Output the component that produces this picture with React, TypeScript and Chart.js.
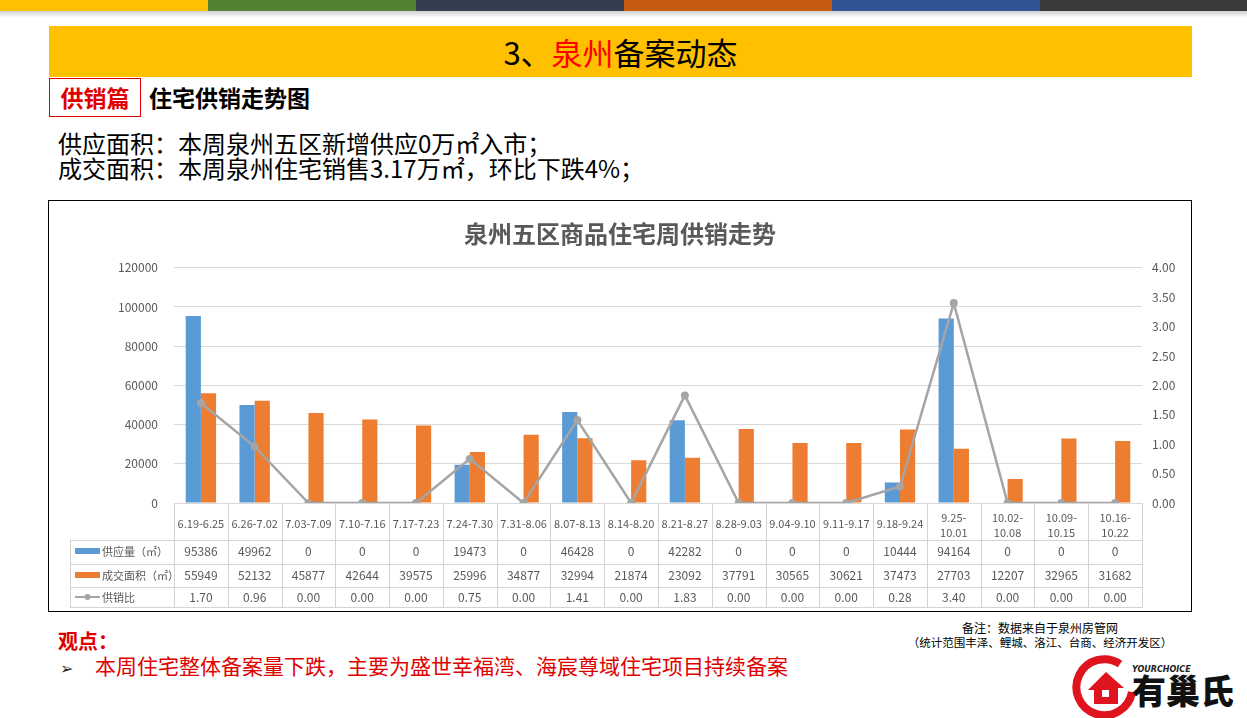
import React, { useEffect, useRef } from "react";
import { Chart, registerables } from "chart.js";

Chart.register(...registerables);

const categories = [
  "6.19-6.25", "6.26-7.02", "7.03-7.09", "7.10-7.16", "7.17-7.23", "7.24-7.30",
  "7.31-8.06", "8.07-8.13", "8.14-8.20", "8.21-8.27", "8.28-9.03", "9.04-9.10",
  "9.11-9.17", "9.18-9.24", "9.25-10.01", "10.02-10.08", "10.09-10.15", "10.16-10.22",
];
const supply = [95386, 49962, 0, 0, 0, 19473, 0, 46428, 0, 42282, 0, 0, 0, 10444, 94164, 0, 0, 0];
const deals = [55949, 52132, 45877, 42644, 39575, 25996, 34877, 32994, 21874, 23092, 37791, 30565, 30621, 37473, 27703, 12207, 32965, 31682];
const ratio = [1.7, 0.96, 0, 0, 0, 0.75, 0, 1.41, 0, 1.83, 0, 0, 0, 0.28, 3.4, 0, 0, 0];
const seriesNames = ["供应量（㎡）", "成交面积（㎡）", "供销比"];
const chartTitle = "泉州五区商品住宅周供销走势";
const leftAxis = { min: 0, max: 120000, step: 20000 };
const rightAxis = { min: 0, max: 4, step: 0.5 };

const BLUE = "#5b9bd5";
const ORANGE = "#ed7d31";
const GRAY = "#a5a5a5";
const TXT = "#595959";
const FONT = "'Noto Sans CJK SC', 'Noto Sans', sans-serif";

const tablePlugin = {
  id: "dataTable",
  afterDraw(chart: any) {
    const ctx = chart.ctx as CanvasRenderingContext2D;
    const { left, right, bottom } = chart.chartArea;
    const n = categories.length;
    const w = (right - left) / n;
    const legendLeft = 21;
    const rows = [bottom, bottom + 37, bottom + 61, bottom + 84, bottom + 104];
    ctx.save();
    ctx.strokeStyle = "#d4d4d4";
    ctx.lineWidth = 1;
    const line = (x1: number, y1: number, x2: number, y2: number) => {
      ctx.beginPath();
      ctx.moveTo(x1, y1);
      ctx.lineTo(x2, y2);
      ctx.stroke();
    };
    for (let i = 0; i <= n; i++) {
      const x = Math.round(left + i * w) + 0.5;
      line(x, rows[0], x, rows[4]);
    }
    line(legendLeft + 0.5, rows[1], legendLeft + 0.5, rows[4]);
    for (let r = 1; r <= 4; r++) {
      const y = Math.round(rows[r]) + 0.5;
      line(legendLeft, y, Math.round(right) + 1, y);
    }
    ctx.fillStyle = TXT;
    ctx.textAlign = "center";
    ctx.textBaseline = "middle";
    ctx.font = `11px ${FONT}`;
    categories.forEach((c, i) => {
      const cx = left + (i + 0.5) * w;
      if (c.length > 9) {
        const k = c.indexOf("-") + 1;
        ctx.fillText(c.slice(0, k), cx, bottom + 15);
        ctx.fillText(c.slice(k), cx, bottom + 30);
      } else {
        ctx.fillText(c, cx, bottom + 21);
      }
    });
    ctx.font = `12px ${FONT}`;
    const rowCenters = [bottom + 48, bottom + 72, bottom + 94];
    const fmt = [
      (v: number) => String(v),
      (v: number) => String(v),
      (v: number) => v.toFixed(2),
    ];
    [supply, deals, ratio].forEach((arr, r) => {
      arr.forEach((v, i) => {
        ctx.fillText(fmt[r](v), left + (i + 0.5) * w, rowCenters[r]);
      });
    });
    // legend keys
    ctx.textAlign = "left";
    ctx.font = `11px ${FONT}`;
    const kx = 26;
    ctx.fillStyle = BLUE;
    ctx.fillRect(kx, rowCenters[0] - 3, 25, 6);
    ctx.fillStyle = ORANGE;
    ctx.fillRect(kx, rowCenters[1] - 3, 25, 6);
    ctx.strokeStyle = GRAY;
    ctx.lineWidth = 2;
    line(kx, rowCenters[2], kx + 25, rowCenters[2]);
    ctx.fillStyle = GRAY;
    ctx.beginPath();
    ctx.arc(kx + 12.5, rowCenters[2], 3, 0, Math.PI * 2);
    ctx.fill();
    ctx.fillStyle = TXT;
    seriesNames.forEach((s, r) => ctx.fillText(s, kx + 27, rowCenters[r] + 1));
    ctx.restore();
  },
};

function ChartBox() {
  const ref = useRef<HTMLCanvasElement>(null);
  useEffect(() => {
    if (!ref.current) return;
    const chart = new Chart(ref.current, {
      type: "bar",
      data: {
        labels: categories,
        datasets: [
          {
            type: "line",
            label: seriesNames[2],
            data: ratio,
            yAxisID: "y1",
            borderColor: GRAY,
            backgroundColor: GRAY,
            borderWidth: 2.5,
            pointRadius: 4,
            pointBackgroundColor: GRAY,
            pointBorderWidth: 0,
            order: 0,
          } as any,
          {
            type: "bar",
            label: seriesNames[0],
            data: supply,
            yAxisID: "y",
            backgroundColor: BLUE,
            categoryPercentage: 0.565,
            barPercentage: 1,
            order: 1,
          },
          {
            type: "bar",
            label: seriesNames[1],
            data: deals,
            yAxisID: "y",
            backgroundColor: ORANGE,
            categoryPercentage: 0.565,
            barPercentage: 1,
            order: 1,
          },
        ],
      },
      options: {
        animation: false,
        responsive: false,
        maintainAspectRatio: false,
        layout: { padding: { top: 0, bottom: 108, left: 0, right: 0 } },
        plugins: {
          legend: { display: false },
          tooltip: { enabled: false },
          title: {
            display: true,
            text: chartTitle,
            color: TXT,
            font: { size: 24, weight: "bold", family: FONT },
            padding: { top: 18, bottom: 20 },
          },
        },
        scales: {
          x: { display: false, offset: true },
          y: {
            position: "left",
            min: leftAxis.min,
            max: leftAxis.max,
            ticks: {
              stepSize: leftAxis.step,
              color: TXT,
              font: { size: 12, family: FONT },
              padding: 16,
              callback: (v: any) => String(v),
            },
            grid: { color: "#d9d9d9", drawTicks: false },
            border: { display: false },
            afterFit: (s: any) => { s.width = 125; },
          },
          y1: {
            position: "right",
            min: rightAxis.min,
            max: rightAxis.max,
            ticks: {
              stepSize: rightAxis.step,
              color: TXT,
              font: { size: 12, family: FONT },
              padding: 10,
              callback: (v: any) => Number(v).toFixed(2),
            },
            grid: { display: false, drawTicks: false },
            border: { display: false },
            afterFit: (s: any) => { s.width = 49; },
          },
        },
      },
      plugins: [tablePlugin],
    });
    return () => chart.destroy();
  }, []);
  return <canvas ref={ref} width={1142} height={410} style={{ display: "block" }} />;
}

const stripColors = ["#ffc000", "#548235", "#333f50", "#c55a11", "#2f5597", "#3a3a3a"];

export default function App() {
  return (
    <div
      style={{
        position: "absolute",
        left: 0,
        top: 0,
        width: 1247,
        height: 718,
        overflow: "hidden",
        background: "#fff",
        fontFamily: FONT,
      }}
    >
      {stripColors.map((c, i) => (
        <div
          key={i}
          style={{ position: "absolute", left: i * 208, top: 0, width: i === 5 ? 207 : 208, height: 11, background: c }}
        />
      ))}
      <div
        style={{
          position: "absolute",
          left: 0,
          top: 11,
          width: 1247,
          height: 7,
          background: "linear-gradient(rgba(0,0,0,0.18), rgba(255,255,255,0))",
        }}
      />
      <div
        style={{
          position: "absolute",
          left: 49,
          top: 26,
          width: 1143,
          height: 51,
          background: "#ffc000",
          textAlign: "center",
          lineHeight: "51px",
          fontSize: 31,
          color: "#000",
        }}
      >
        3、<span style={{ color: "#ff0000" }}>泉州</span>备案动态
      </div>
      <div
        style={{
          position: "absolute",
          left: 49,
          top: 78,
          width: 90,
          height: 37,
          border: "1px solid #e00000",
          color: "#e00000",
          fontWeight: "bold",
          fontSize: 23,
          lineHeight: "37px",
          textAlign: "center",
        }}
      >
        供销篇
      </div>
      <div
        style={{
          position: "absolute",
          left: 149,
          top: 78,
          height: 39,
          lineHeight: "39px",
          fontWeight: "bold",
          fontSize: 23,
          color: "#000",
        }}
      >
        住宅供销走势图
      </div>
      <div
        style={{
          position: "absolute",
          left: 58,
          top: 130,
          fontSize: 24,
          lineHeight: "25px",
          color: "#000",
          whiteSpace: "nowrap",
        }}
      >
        <div>供应面积：本周泉州五区新增供应0万㎡入市；</div>
        <div>成交面积：本周泉州住宅销售3.17万㎡，环比下跌4%；</div>
      </div>
      <div
        style={{
          position: "absolute",
          left: 48,
          top: 200,
          width: 1142,
          height: 410,
          border: "1px solid #000",
        }}
      >
        <ChartBox />
      </div>
      <div
        style={{
          position: "absolute",
          left: 58,
          top: 628,
          fontSize: 20,
          fontWeight: "bold",
          color: "#e00000",
          lineHeight: "26px",
        }}
      >
        观点：
      </div>
      <div
        style={{
          position: "absolute",
          left: 60,
          top: 652,
          fontSize: 21,
          color: "#e00000",
          lineHeight: "27px",
          whiteSpace: "nowrap",
        }}
      >
        <span style={{ color: "#222", fontSize: 16, marginRight: 22 }}>➢</span>
        本周住宅整体备案量下跌，主要为盛世幸福湾、海宸尊域住宅项目持续备案
      </div>
      <div
        style={{
          position: "absolute",
          left: 880,
          top: 620,
          width: 320,
          textAlign: "center",
          fontSize: 11.5,
          lineHeight: "15px",
          color: "#000",
        }}
      >
        <div style={{ fontSize: 12 }}>备注：数据来自于泉州房管网</div>
        <div>（统计范围丰泽、鲤城、洛江、台商、经济开发区）</div>
      </div>
      <svg
        style={{ position: "absolute", left: 1062, top: 652 }}
        width={185}
        height={66}
        viewBox="0 0 185 66"
      >
        <path d="M58 12 A28 28 0 1 0 70 40" stroke="#e0141e" strokeWidth={8} fill="none" />
        <path d="M26 38 L44 20 L62 36 L56 36 L56 52 L32 52 L32 38 Z" fill="#e0141e" />
        <rect x={40} y={38} width={7} height={7} fill="#fff" />
        <text x={70} y={20} fontSize={8} fontStyle="italic" fontWeight="bold" fill="#222" fontFamily="'DejaVu Sans', sans-serif">
          YOURCHOICE
        </text>
        <text x={70} y={52} fontSize={34} fontWeight="900" fill="#111" fontFamily={FONT}>
          有巢氏
        </text>
      </svg>
    </div>
  );
}
